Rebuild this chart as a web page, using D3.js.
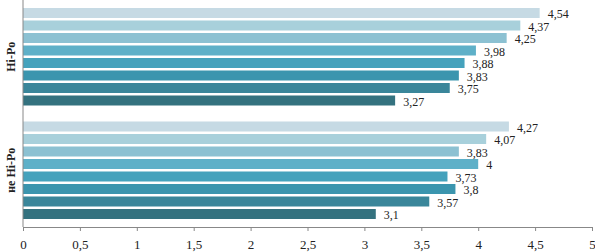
<!DOCTYPE html>
<html>
<head>
<meta charset="utf-8">
<script src="https://cdn.jsdelivr.net/npm/d3@7"></script>
<style>
  body { margin: 0; background: #fff; }
  svg { display: block; }
</style>
</head>
<body>
<svg id="chart" width="595" height="252"></svg>
<script>
const groups = ["Hi-Po", "не Hi-Po"];
const seriesNames = ["s1", "s2", "s3", "s4", "s5", "s6", "s7", "s8"];
const hiPoValues = [4.54, 4.37, 4.25, 3.98, 3.88, 3.83, 3.75, 3.27];
const notHiPoValues = [4.27, 4.07, 3.83, 4, 3.73, 3.8, 3.57, 3.1];
const xTicks = [0, 0.5, 1, 1.5, 2, 2.5, 3, 3.5, 4, 4.5, 5];
const seriesColors = ["#c6dae4", "#a8d0db", "#8cc1d2", "#5eb0c8", "#45a2bc", "#3b95ae", "#3a869a", "#34727f"];

const margin = {top: 0, right: 3, bottom: 25, left: 23},
      width = 595 - margin.left - margin.right,
      height = 252 - margin.top - margin.bottom;

const rows = [];
groups.forEach(function (g, i) {
    const vals = i === 0 ? hiPoValues : notHiPoValues;
    vals.forEach(function (v, j) {
        rows.push({group: g, series: seriesNames[j], value: v, color: seriesColors[j]});
    });
});

const svg = d3.select("#chart")
    .append("g")
    .attr("transform", "translate(" + margin.left + "," + margin.top + ")");

const x = d3.scaleLinear().domain([0, 5]).range([0, width]);
const y0 = d3.scaleBand().domain(groups).range([0, height]).paddingInner(0);
const y1 = d3.scaleBand().domain(seriesNames).range([0, y0.bandwidth()])
    .paddingInner(0.2).paddingOuter(0.64);

svg.selectAll("rect.bar")
    .data(rows)
    .enter()
    .append("rect")
    .attr("class", "bar")
    .attr("x", x(0))
    .attr("y", function (d) { return y0(d.group) + y1(d.series); })
    .attr("width", function (d) { return x(d.value) - x(0); })
    .attr("height", y1.bandwidth())
    .attr("fill", function (d) { return d.color; });

svg.selectAll("text.val")
    .data(rows)
    .enter()
    .append("text")
    .attr("class", "val")
    .attr("x", function (d) { return x(d.value) + 8; })
    .attr("y", function (d) { return y0(d.group) + y1(d.series) + y1.bandwidth() / 2 + 5; })
    .attr("font-family", "Liberation Serif, serif")
    .attr("font-size", "12px")
    .attr("fill", "#222")
    .text(function (d) { return String(d.value).replace(".", ","); });

// x axis
const xAxis = svg.append("g")
    .attr("transform", "translate(0," + height + ")")
    .call(d3.axisBottom(x).tickValues(xTicks).tickSize(4).tickSizeOuter(0)
        .tickFormat(function (d) { return String(d).replace(".", ","); }));
xAxis.select(".domain").attr("stroke", "#888");
xAxis.selectAll(".tick line").attr("stroke", "#888");
xAxis.selectAll(".tick text")
    .attr("dy", "0")
    .attr("y", 22)
    .attr("font-family", "Liberation Serif, serif")
    .attr("font-size", "13px")
    .attr("fill", "#222");

// y axis line
svg.append("line")
    .attr("x1", x(0)).attr("x2", x(0))
    .attr("y1", 0).attr("y2", height)
    .attr("stroke", "#888");

// group labels
svg.selectAll("text.grp")
    .data(groups)
    .enter()
    .append("text")
    .attr("class", "grp")
    .attr("transform", function (d) {
        return "translate(-8," + (y0(d) + y0.bandwidth() / 2) + ") rotate(-90)";
    })
    .attr("text-anchor", "middle")
    .attr("font-family", "Liberation Serif, serif")
    .attr("font-size", "12px")
    .attr("font-weight", "bold")
    .attr("fill", "#222")
    .text(function (d) { return d; });
</script>
</body>
</html>
